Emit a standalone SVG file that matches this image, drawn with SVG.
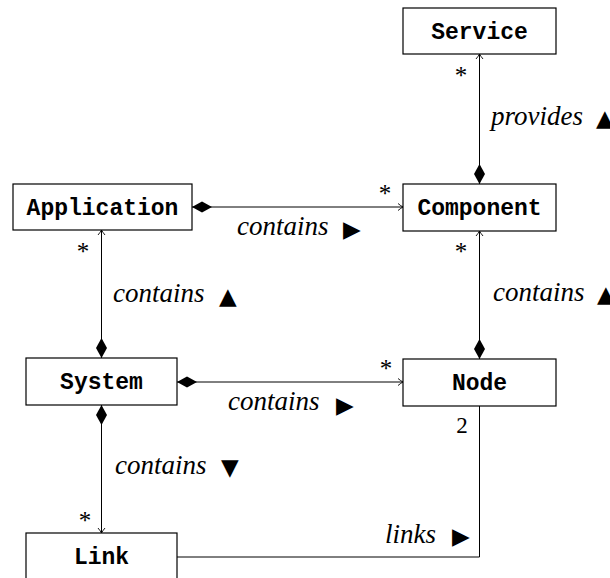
<svg xmlns="http://www.w3.org/2000/svg" width="610" height="578" viewBox="0 0 610 578">
<style>
.box{fill:#fff;stroke:#000;stroke-width:1.2}
.name{font-family:"Liberation Mono","DejaVu Sans Mono",monospace;font-weight:bold;font-size:23px;text-anchor:middle}
.lbl{font-family:"Liberation Serif","DejaVu Serif",serif;font-style:italic;font-size:27px}
.tri{font-family:"DejaVu Sans",sans-serif;font-style:normal;font-size:23px}
.mult{font-family:"Liberation Serif","DejaVu Serif",serif;font-size:25px;text-anchor:middle}
.num{font-family:"Liberation Serif","DejaVu Serif",serif;font-size:23px;text-anchor:middle}
.conn{fill:none;stroke:#000;stroke-width:1}
</style>
<defs>
<marker id="dia" markerUnits="userSpaceOnUse" markerWidth="22" markerHeight="14" viewBox="-1 -7 22 14" refX="0" refY="0" orient="auto">
<path d="M0,0 L10,-5.5 L20,0 L10,5.5 Z" fill="#000"/>
</marker>
<marker id="arr" markerUnits="userSpaceOnUse" markerWidth="10" markerHeight="10" viewBox="-8 -5 10 10" refX="0" refY="0" orient="auto">
<path d="M-5,-3.5 Q-2,-1 0,0 Q-2,1 -5,3.5" fill="none" stroke="#000" stroke-width="0.9"/>
</marker>
</defs>
<g id="connectors">
<line class="conn" x1="479.5" y1="184" x2="479.5" y2="54" marker-start="url(#dia)" marker-end="url(#arr)"/>
<line class="conn" x1="192" y1="207" x2="403" y2="207" marker-start="url(#dia)" marker-end="url(#arr)"/>
<line class="conn" x1="479.5" y1="359" x2="479.5" y2="231" marker-start="url(#dia)" marker-end="url(#arr)"/>
<line class="conn" x1="101.5" y1="358" x2="101.5" y2="230" marker-start="url(#dia)" marker-end="url(#arr)"/>
<line class="conn" x1="177" y1="382" x2="403" y2="382" marker-start="url(#dia)" marker-end="url(#arr)"/>
<line class="conn" x1="101.5" y1="405" x2="101.5" y2="533" marker-start="url(#dia)" marker-end="url(#arr)"/>
<polyline class="conn" points="177,557 479.5,557 479.5,405"/>
<text class="lbl" x="491" y="125">provides<tspan class="tri" x="596" y="126">▲</tspan></text>
<text class="lbl" x="237" y="235">contains<tspan class="tri" x="343" y="237">▶</tspan></text>
<text class="lbl" x="113" y="302">contains<tspan class="tri" x="219" y="304">▲</tspan></text>
<text class="lbl" x="493" y="301">contains<tspan class="tri" x="597" y="302">▲</tspan></text>
<text class="lbl" x="228" y="410">contains<tspan class="tri" x="336" y="413">▶</tspan></text>
<text class="lbl" x="115" y="474">contains<tspan class="tri" x="221" y="475">▼</tspan></text>
<text class="lbl" x="385" y="543">links<tspan class="tri" x="452" y="544">▶</tspan></text>
<text class="mult" x="461" y="84">*</text>
<text class="mult" x="385" y="202">*</text>
<text class="mult" x="83" y="260">*</text>
<text class="mult" x="461" y="260">*</text>
<text class="mult" x="386" y="377">*</text>
<text class="mult" x="85" y="529">*</text>
<text class="num" x="462" y="433">2</text>
</g>
<g id="service"><rect class="box" x="403" y="8" width="153" height="46"/><text class="name" x="479.5" y="39">Service</text></g>
<g id="component"><rect class="box" x="403" y="184" width="153" height="47"/><text class="name" x="479.5" y="215">Component</text></g>
<g id="application"><rect class="box" x="13" y="184" width="179" height="46"/><text class="name" x="102.5" y="215">Application</text></g>
<g id="system"><rect class="box" x="26" y="358" width="151" height="47"/><text class="name" x="101.5" y="389">System</text></g>
<g id="node"><rect class="box" x="403" y="359" width="153" height="47"/><text class="name" x="479.5" y="390">Node</text></g>
<g id="link"><rect class="box" x="26" y="533" width="151" height="47"/><text class="name" x="101.5" y="564">Link</text></g>
</svg>
